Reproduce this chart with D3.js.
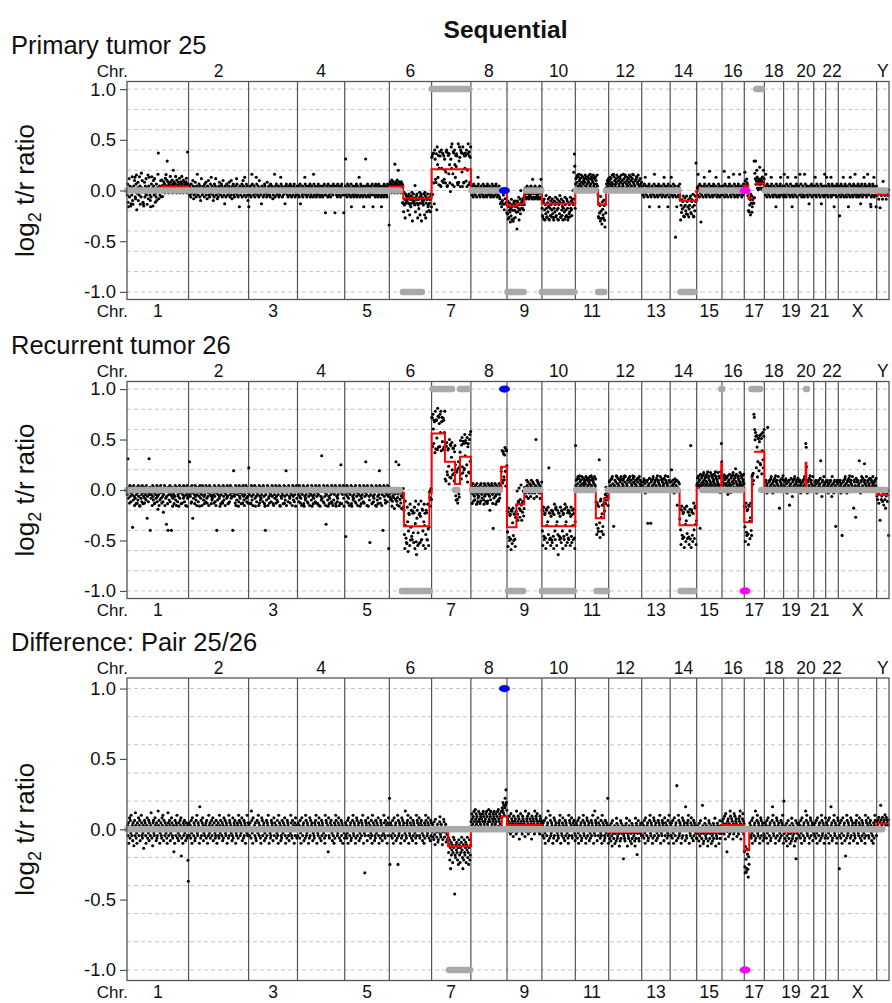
<!DOCTYPE html>
<html>
<head>
<meta charset="utf-8">
<title>Sequential</title>
<script src="https://cdn.jsdelivr.net/npm/d3@7"></script>
<style>
  body { margin: 0; background: #fff; }
  svg text { font-family: "Liberation Sans", Arial, Helvetica, sans-serif; fill: #111; }
</style>
</head>
<body>
<svg id="chart" width="892" height="1003"></svg>
<script>
// ---------- data ----------
const mainTitle = "Sequential";
const panelTitles = ["Primary tumor 25", "Recurrent tumor 26", "Difference: Pair 25/26"];

const chrNames = ["1","2","3","4","5","6","7","8","9","10","11","12","13","14","15","16","17","18","19","20","21","22","X","Y"];
// plotted chromosome lengths (Mb)
const chrLenMb = [249.3,243.2,198.0,191.2,180.9,171.1,159.1,146.4,141.2,135.5,135.0,133.9,115.2,107.3,102.5,90.4,81.2,78.1,59.1,63.0,48.1,51.3,155.3,50.0];

const yTickValues = [1.0, 0.5, 0.0, -0.5, -1.0];
const yGridValues = [1.0, 0.8, 0.6, 0.4, 0.2, 0.0, -0.2, -0.4, -0.6, -0.8, -1.0];

// segment means: [chr, startMb, endMb, log2 ratio]
const segs25 = [
  ["1",0,140,0],["1",140,249.3,0.04],["2",0,243.2,0],["3",0,198,0],["4",0,191.2,0],["5",0,180.9,0],
  ["6",0,56,0.04],["6",56,171.1,-0.08],["7",0,159.1,0.21],["8",0,146.4,0],
  ["9",0,38,-0.15],["9",38,70,-0.13],["9",70,141.2,-0.02],["10",0,135.5,-0.13],
  ["11",0,92,0],["11",92,124,-0.14],["11",124,135,0],["12",0,133.9,0],["13",0,115.2,0],
  ["14",0,40,0],["14",40,107.3,-0.1],["15",0,102.5,0],["16",0,90.4,0],
  ["17",0,16,0.05],["17",16,36,-0.08],["17",43,81.2,0.07],
  ["18",0,78.1,0],["19",0,59.1,0],["20",0,63,0],["21",0,48.1,0],["22",0,51.3,0],["X",0,155.3,0],["Y",0,50,-0.04]
];
const segs26 = [
  ["1",0,249.3,0],["2",0,243.2,0],["3",0,198,0],["4",0,191.2,0],["5",0,180.9,0],
  ["6",0,59,-0.03],["6",59,162,-0.36],["6",162,171.1,-0.03],
  ["7",0,54,0.56],["7",54,95,0.28],["7",95,115,0.06],["7",115,159.1,0.33],
  ["8",0,123,0.02],["8",123,146.4,0.23],
  ["9",0,38,-0.37],["9",38,70,-0.14],["9",70,141.2,-0.02],["10",0,135.5,-0.36],
  ["11",0,83,-0.02],["11",83,117,-0.28],["11",117,135,-0.09],["12",0,133.9,-0.02],["13",0,115.2,-0.02],
  ["14",0,38,-0.02],["14",38,107.3,-0.35],["15",0,99.5,0.02],["15",99.5,102.5,0.27],["16",0,90.4,0.02],
  ["17",0,31,-0.32],["17",31,33,0.12],["17",39,81.2,0.38],
  ["18",0,78.1,-0.02],["19",0,59.1,-0.02],["20",0,30,-0.02],["20",30,33,0.27],["20",33,63,-0.02],
  ["21",0,48.1,-0.02],["22",0,51.3,-0.02],["X",0,155.3,-0.02],["Y",0,50,-0.05]
];
const segsDiff = [
  ["1",0,249.3,0],["2",0,243.2,0],["3",0,198,0],["4",0,191.2,0],["5",0,180.9,0],["6",0,171.1,0],
  ["7",0,67,-0.01],["7",67,159.1,-0.12],["8",0,125,0.01],["8",125,146.4,0.09],["9",0,141.2,0.03],
  ["10",0,135.5,0],["11",0,135,0],["12",0,133.9,-0.02],["13",0,115.2,0],["14",0,107.3,0],
  ["15",0,102.5,-0.02],["16",0,90.4,0.03],["17",0,20,-0.15],["17",20,81.2,0],
  ["18",0,78.1,0],["19",0,59.1,-0.02],["20",0,63,0],["21",0,48.1,0],["22",0,51.3,0],["X",0,155.3,0],["Y",0,50,0.04]
];

// calls (loss -1 / normal 0 / gain 1): [fromChr, fromMb, toChr, toMb, level]
const calls25 = [
  ["1",1,"6",42,0],["6",55,"6",132,-1],["7",1,"7",152,1],["8",3,"8",125,0],
  ["9",2,"9",67,-1],["9",77,"9",139,0],["10",0,"10",131,-1],["11",2,"11",80,0],["11",92,"11",117,-1],
  ["11",124,"14",34,0],["14",42,"14",97,-1],["15",21,"17",12,0],["17",49,"17",71,1],["18",2,"Y",37,0]
];
const calls26 = [
  ["1",1,"6",42,0],["6",51,"6",164,-1],["7",4,"7",83,1],["7",95,"7",104,0],["7",115,"7",150,1],
  ["8",4,"8",118,0],["9",4,"9",65,-1],["9",77,"9",134,0],["10",0,"10",129,-1],
  ["11",3,"11",74,0],["11",86,"11",128,-1],["11",132,"14",30,0],["14",42,"14",97,-1],
  ["15",23,"16",80,0],["15",100,"16",1,1],["17",29,"17",64,1],["17",69,"Y",37,0],["20",32,"20",35,1]
];
const callsDiff = [
  ["1",1,"Y",22,0],["7",71,"7",156,-1]
];

// highlighted loci: [gene, chr, Mb, level]
const marks25 = [["MYC","8",136,0],["TP53","17",3,0]];
const marks26 = [["MYC","8",136,1],["TP53","17",3,-1]];
const marksDiff = [["MYC","8",136,1],["TP53","17",3,-1]];

// probe ratios per chromosome, one character per probe, as deviation from the segment mean:
// a..t = -0.171..+0.171 (steps of 0.018); A..Z = +0.13, +0.16, ...; 0..9 = -0.13, -0.16, ...; u..z = -0.43 .. -0.58
const dots25 = [
  "hnd1kqgmjb0lhrecjmkpAgfns2iloejhrmckgtlpjd0bkogmiqhlcjsfmAkhe1gnrjlbpmhqkdignelkB" + "IfkmhjpglnkeijmhlgokqjnEhmkgljipmhkjnglB" + "kmjhlpignkjmhklogjmhkpljgnmikhjlmogkHlk",
  "jkmhlgnikjpmfhlkoigmjBkhlnjgmekqjhlimkgnjlohkfmjplhgkniAjmlhekgnjmqhlkfjgimolkhjnmgkpjhl0mkgjnlhkimojglhpkfmjnhlgkjmiqnhkglj1mkhjlngkpmjhAlkgnjmhek",
  "1jlhmgkBnjkhmlgijAnkhmjgplkhi0mjkglhnmjkigohlkmjhgnlkmjfhlkBgmjnhklimgjhlAnkmgjhlki0mjnlhkgmjlhnkmgjlhkmnjglhikm",
  "jlhmgkn0jlkhmgiljkAnhmjglkhmkjlngihmkjlgBnhkmjlgihkmnjlhgkmjlhkgmjlnhk" + "3hkmjlgnkhjmlgikmjlhnkmj" + "3kjmhlgnkjmhlkgjmnl" + "hjk3kh",
  "kmGhljgnkimjhlkgn1jlhmkgiljmhknglmjhkAlgjnmhkljgm1" + "khljGmgkjnhlmkgjilmhknj1lhkmjgnlhkmjglnhkmjlg1hkmjlgnhkmjlhgknmjl7",
  "hkmjlgnikjmhlgDkjmhlngkBjmhlkgjmil" + "1kh0ngj2mhlikjdlhmk1gjflhn3jkmihgA0kjlmh2gjekn1hlm3jhkigmj1nl2hk0jmfgkdhj0mlf",
  "qA4sBc7Cpe0s9DmfrbktA1aCkdBs0AepjcitCa1Brhsmc3pDkEbhtBaCmfrlsAcbE0oDqaCtBiaDsc0AkBrdCajsEbtA0qD",
  "jlhmkgnijmhlkgjmAnlhkgjmilkhngjmlkhjgmnlhkjmigklhnjmgklhjmnigklhjm" + "gf0kd1je0hc2kf0jd3",
  "kfm0jdhlg1ienkcjhb0lm" + "hkdjmgi4lfkhn1jgmeAkh" + "jlhmkgnjilmhkgjnmlhkjgmilhnkjmgAlhkjmgnlhjkmiglhjkmnglhAjm",
  "hd0lkbmg1jeohc0kfmib1nhdlj0gmekc1hlfjn0dkgmbh1jleokc0mgdi1lhkfbnj0gdmlh1ckejf0nhlgdmkAjGmMIh",
  "nqkAosmrlBpnqkmsoAlrnpqkosmAqlnrpkosqmBnlrqpkosmnAqlrpnksm" + "hd0kfj1ogc2lhe0mjb3kf" + "lnkpmoq",
  "lpnAkqmosnlBrkpmnqoslkApnmrqokslpnmBqkosrlnpAmkqosnlrpmkqBosnlmpkqrAonslpmkqnlo",
  "jlhmkgniAjmhlkgjmn1lhkgjmilkhnBgjmlkhjgmn1lhkjmigklhnAjmgklhjm1nigkl",
  "kmAhljgnlkhmvjg1kjmhlgnk" + "2hdkfjmbg1lhe0mjcgk1fhlmd0jkgnb1hemjIk",
  "jlhBmkgnji6mhlkgjmAnlhkgjmilkhnCgjmlkhjgmnlhkjmAigklhnjmgklhjm",
  "jlhmkCgnijmhlkgjAmnlhkgjmilkBhngjmlkhjgmnlhBkjmigklhnjm",
  "kAmhjgnlk" + "ehd0kgj1mhlcf" + "jhk" + "hIkEmDjlAnhkgmjlBhkjmlgnhkAjm",
  "jlhBmkgnjimhlkgjmAnlhkgjmilkh1ngjmlkhjgmnAlhkjmig",
  "kBmhljgnkiAmjhlkgnjlh1mkgjilmhAknglmj",
  "jmlhBknigjlmhkgBjnlkhmjgli0mkhjlngkmjh",
  "kjmAlhgnkjmilhkgjn0mlhkjgmBlh",
  "jmAlhkgnjmlkhAgjnmlhk1jmlhkgnjml",
  "jlh4mkgnjimhlAkgjmnlhkgjmil1khngAjmlkhjgmnlhkBjmigklhnjmgklh0jmnigklhAjmnklhgjmBkilhnjmc1gklhnjmAgklhj1m",
  "jkmhl0kjmhAlkjmhlkjm"
];
const dots26 = [
  "hkGfjl0mgi" + "dklh8jemgb" + "kfjchl0iem" + "gjb1klfhdm" + "jcigl0fkhe" + "mj5gkdiGhl" + "9kfhjbmgel" + "ic0khfjmdg" + "2lhbkejmfi" + "0kgd3hjmbl" + "fk7gjc9lhe" + "kmdhj9gl1f" + "ihckgmejbl" + "kdhg1jmfik" + "cjl0hkfmgd" + "jlbhk1mfgi",
  "jkFhgl0dmi" + "5jfkhcmgel" + "bhkjdlg1mi" + "fkhbmjlegc" + "hkdmjf0lgi" + "bkmjhlcgef" + "kjh0mgdlbi" + "9kehjmfg1l" + "chkjd0mgel" + "ibkhjfmgcl" + "0kdhmjflgi" + "9jCkgh0mbl" + "ekhj1dmgfi" + "kcljh0mgeb" + "hjkmfdlg0i",
  "Dkhjc0mgel" + "bhkjmf1lgd" + "ikhjbm0gel" + "fhkjdmlgc1" + "9hkejmblfg" + "0ikhdjmglc" + "bkhfjm0gel" + "dhkjmb1lgf" + "ikhcjm0gel" + "Cbhkjdmlgf" + "0ikhjbmgel" + "dhk1jmfl",
  "jkhdmgl0fi" + "bkhjmc1lge" + "fhkldm0jgi" + "bkihem1lgc" + "fhjkdm0lgi" + "ckhbml1jge" + "Hfkjdm0lgi" + "b7hjme1lgc" + "fjkhdm0lbi" + "ekhjmc1lgd" + "fhkjbm0lEi" + "ckhjmf1l",
  "jkvhdmgl0f" + "ibkhjmc1lg" + "efhkldm0jg" + "ibkihem1lg" + "cfhjkdm0lg" + "iFkhbml1jg" + "exkhjmc0lg" + "dfhkjbm1le" + "gckhCmf0lj" + "bhk9jmgle0" + "ikhdmjgzl",
  "jkhmgl0fik" + "hlbjmgGkfd" + "hjmF0kglei" + "bkhjmc" + "Bf3Ekd1aCm4hAq2DcjBe0sAg1rC3lEb5oB2gDaqA1pEc0tBh2mD" + "kA3fBr0cDi2" + "jkh0lmg",
  "Bs0CmeAq2DbrAh1EtcBp0CkDaqBf1sAckD" + "aB2sCe0qAh3DbtB1mCf0rAd2pB" + "Cd1qAb2sDe0t" + "mBa3qCe1sA0dDkBr2fC4pAb1tDhE",
  "jlhbkmg0if" + "dklhj1mgce" + "kfjhbl0mig" + "ehkjd1mflg" + "ckhjb0mgil" + "f3kdhjmlgb" + "9kehjmf1lg" + "chkjd0mgel" + "ikhj" + "Bc1sAe0qCh2tBk",
  "Bh2sCe0qAd3tB1mCf0rAd2pBc" + "jAe1lkBh0mgCj1kflAdhm" + "kmjlhqnkpgmjlokhnqmjlpkogmjlnNkhqmplojkngmjlp",
  "Bh2sCe0qAd3tBk1mCfPr0Ad2pBc1sAe3qDh0tCk2mBf5rAe0pCd1sBh3qAe0tDk2mCf1rBd0sAh2pCe1qBk0tAd3m",
  "LnqkAosmrlBpnqkmsoAlrnpqkosmAqlnrpkosqmBnlrqpkosmnA" + "Bg1sAe0qPh2tCk0mAf1rBd" + "kmhqjnlpgo",
  "mpkqnlArsom7lnqkpBsmorlnkqpAsmloqnrkBpsmlonqkArpsmlqonkBrpsmolqnkAprmlsoqnkp",
  "lnkpmAqojlmpkq6nlormk6pqlnAsmokpqlnrmBkpqolnsmkAqplnormkBqplonsmkqpl",
  "mkpDlnqkojmAplnkq0mlpkon" + "Bh2sCe0qAd3tBk1mCf0rAd2pBcW3sAe1qDh0t" + "Ck2m",
  "lmpkqnlo9rkmpqlnAsmokpqlnrmBkpqolnsmkAqplnormkBqplonsmkqpl" + "hBqCk",
  "lnkpmAqojlmpkqgnlormkhpqlnAsmokpqCnrmlkpqolnsmkApqlnorm",
  "Bh2sCe0qAd3tBk1mCf0" + "kl" + "gmi" + "IHDqCs1Bm4eAr2pBd0tA3kCf1sD",
  "lmkpqnjoRlkmpqlnAsmokjpqlnrmBkpqolnsmk1qplnormkBq",
  "lnkpmAqojlmpkq0nlormkhpqlnAsmokpqlnr",
  "lmkpqnjolkmpqlnAsmoCsEkjpqlnrmBkpqolnsmk",
  "lnkpmqojlmpkqnlorGmkhpqlnsmokp",
  "lmkpqnjolkmpqlnhsmokjpqln7mkpqol",
  "lmkpqnjolukmpqlnAsmokjpqlnrmBkpqolnsmk1qpln4rmkpqlnoGmkjpqslnrmkpFqolnsmkpqlnormkAqplnsokmpqlnrm",
  "jhkfl4mhjgkelh0jkgm9"
];
const dotsDiff = [
  "jlhmekognipjhlfmkdjnhqlgiemkjohlnfjkpmhgilcjnkmhejlogkinfmjhlqkgjdmnihkoljfmghkAlnjeikmhgolpjfnkhmjilgekqmhjnlfikomhgjl1kenjhmlpgkifmjhnlo2gkjemhlnikfjmghl38",
  "kmhjlgnieokjhmlfgjnkpihmljeBkgnhjmolfikhjlmgnkejhplimgkjnhlofkmjighnlekjmhgplinkjhmflgokjnihmlejkgphnmjlikfhogjmlnkeihjmlgpknjhmilofkjgnhmlejkiphmj",
  "ljhmkgAnieojklhmgfjnkipmhljgekonhjlmfikgjnhmlpkejighnmlkfjohmkjlginhepkmjlfhgnkimjlohekjgnmlhfkjipmhgnjlkemhojlgk",
  "hmkjlgniekojhlmfjkgpnhimljekgohnjlmkfijhgmlnpkejihmolgkjfnhmlkijgephnmkjl1ohgkmjnlifkhjemglpnkjhimolgjkfnhmlejkig",
  "kjmhlgineokjhlmfgjknpihmljegkonhjlmfkigjnhmlpkeji6hnmlkfjohmkjlginhepkmjlfhgnkimjlohekjgnmlhfkjipmhgnjlkemhojl",
  "D4jmhlkgniekojhlmfjkgp4nhimljekgohnjlmkfiAjhgmlnpkejihmolgkjfnhmlkijgephnmkjlohgkmjnlifkhjemglpnkjhimolgjkfnhm",
  "kjmhlgnieokjhlmfgjknpihmljegkonhjlmfkigjn" + "hkmej1lgikdhnjm7gfkilhej0mkgdjhlnif1kemhgjldkinfh0jmegk",
  "mkpnlojqmkAnplomjkqnmploknjpmqolkmnpjqolkmAnpmoqjklnpmoqknlpmjoqkAnmplokqjnmplok" + "nAoCpm",
  "kmjlhnikgojmlhkfnjlimkgpjhlnkmeijolkhgnmjlkifpjhmlnkgoijmhlkenjimlkgphjnmlokjihlgnmkjl",
  "jlhmkgniekojhlmAfjkgpnhimljekgohnjlmkfijhgmlnpkejihmolgkjfnhmlkijgephnmkjlohgkmjnlif",
  "hkmjlgnieokjhlmfgjknpihmljegkonhjlmfkigjnhmlpkejiAhnmlkfjohmkjlginhepkmjlfhgnkimjlDhe",
  "ljhmkgnieokjhlmfjkgpnhimljekgohnjlmk2ijhgmlnpkejihmolgkjfnhmlkijgephnm1jlohgkmjnli",
  "kmhjlgnieokjhlmfgjknpihmljegkonhjlmfkigjnhmlpkejihnmlkfjohmkjlginhepkm",
  "jlhmkgniekojhlmfGjkgpnhimljekgohnjlmkfBjhgmlnpkejihmolgkjfnhmlkijg",
  "hkmjlgnieokjhlCmfgjknpihmljegkonhjlmfkigjnhmlpkejihnmlkfjohmkjl",
  "ljhmkgnieokj2hlmfjkgpnhimljekgohnjlmkfijhgmlnpkejihmolgk",
  "jd1lgb0kic2he" + "kmjlhgnieokjhlmfAgjknpihmljegkonhjlmfkig",
  "hkmjlgnieokjhlmfgjknBpihmljegkonhjlmfkigjnhmlpke",
  "Djlhmkgniekojhlmfjkgpnhimljekgo2hnjlm",
  "kmhjlgnieokjhlmfgjAknpihmljegkonhjlmfki",
  "ljhmkgnieokjhlmfjkgpnhimljekgo",
  "hkmjlgnieokjhBlmfgjknpihmljegkon",
  "jl5hmkgniekojhlmfj2kgpnhimljekgohnjlmkfijhgmlnpkejihmolgkjfnhmlkijgephnmkjlohgkmjnlifkhjemglpnkjh",
  "kjlmhkAljmhklnjmlkjl"
];

// ---------- layout ----------
const plotLeft = 127, plotRight = 889;
const panelBoxes = [[81.5, 299.5], [381.5, 598.5], [678, 980.5]];
const markerColor = { MYC: "#0000ff", TP53: "#ff00ff" };

const panels = [
  { title: panelTitles[0], segs: segs25, calls: calls25, marks: marks25, dots: dots25 },
  { title: panelTitles[1], segs: segs26, calls: calls26, marks: marks26, dots: dots26 },
  { title: panelTitles[2], segs: segsDiff, calls: callsDiff, marks: marksDiff, dots: dotsDiff }
];

const svg = d3.select("#chart");

// cumulative genome position of each chromosome
const chrOffset = {};
let acc = 0;
chrNames.forEach((c, i) => { chrOffset[c] = acc; acc += chrLenMb[i]; });
const totalMb = acc;

const x = d3.scaleLinear().domain([0, totalMb]).range([plotLeft, plotRight]);

function residual(ch) {
  const c = ch.charCodeAt(0);
  if (c >= 97 && c <= 116) return (c - 97 - 9.5) * 0.018;        // a..t
  if (c >= 65 && c <= 90) return 0.13 + (c - 65) * 0.03;         // A..Z
  if (c >= 48 && c <= 57) return -(0.13 + (c - 48) * 0.03);      // 0..9
  if (c >= 117 && c <= 122) return -(0.43 + (c - 117) * 0.03);   // u..z
  return 0;
}

function segValue(segs, chr, mb) {
  const own = segs.filter(s => s[0] === chr);
  let hit = own.find(s => mb >= s[1] && mb < s[2]);
  if (!hit) hit = own.filter(s => s[1] <= mb).pop() || own[0];
  return hit ? hit[3] : 0;
}

svg.append("text")
  .attr("x", 505.5).attr("y", 38)
  .attr("text-anchor", "middle")
  .style("font-size", "24.5px").style("font-weight", "bold")
  .text(mainTitle);

panels.forEach((p, i) => {
  const [top, bottom] = panelBoxes[i];
  const y = d3.scaleLinear().domain([-1.075, 1.075]).range([bottom, top]);
  const g = svg.append("g");

  g.append("text")
    .attr("x", 11).attr("y", top - 27.5)
    .style("font-size", "25.5px")
    .text(p.title);

  // dashed grid
  g.append("g").selectAll("line").data(yGridValues).join("line")
    .attr("x1", plotLeft).attr("x2", plotRight)
    .attr("y1", d => y(d)).attr("y2", d => y(d))
    .attr("stroke", "#c4c4c4").attr("stroke-dasharray", "4 3");

  // chromosome boundaries
  g.append("g").selectAll("line").data(chrNames.slice(1)).join("line")
    .attr("x1", c => x(chrOffset[c])).attr("x2", c => x(chrOffset[c]))
    .attr("y1", top).attr("y2", bottom)
    .attr("stroke", "#555").attr("stroke-width", 1.2);

  // probes
  const pts = [];
  p.dots.forEach((str, ci) => {
    const c = chrNames[ci], len = chrLenMb[ci];
    for (let k = 0; k < str.length; k++) {
      const mb = (k + 0.5) / str.length * len;
      pts.push([chrOffset[c] + mb, segValue(p.segs, c, mb) + residual(str[k])]);
    }
  });
  g.append("g").selectAll("circle").data(pts).join("circle")
    .attr("cx", d => x(d[0])).attr("cy", d => y(d[1]))
    .attr("r", 1.55).attr("fill", "#000");

  // segment line
  const path = d3.path();
  let prevEnd = null;
  p.segs.forEach(([c, s, e, v]) => {
    const g0 = chrOffset[c] + s, g1 = chrOffset[c] + e;
    if (prevEnd !== null && Math.abs(g0 - prevEnd) < 1) path.lineTo(x(g0), y(v));
    else path.moveTo(x(g0), y(v));
    path.lineTo(x(g1), y(v));
    prevEnd = g1;
  });
  g.append("path").attr("d", path.toString())
    .attr("fill", "none").attr("stroke", "#ff0000").attr("stroke-width", 2);

  // calls
  g.append("g").selectAll("line").data(p.calls).join("line")
    .attr("x1", d => x(chrOffset[d[0]] + d[1])).attr("x2", d => x(chrOffset[d[2]] + d[3]))
    .attr("y1", d => y(d[4])).attr("y2", d => y(d[4]))
    .attr("stroke", "#a9a9a9").attr("stroke-width", 6.5).attr("stroke-linecap", "round");

  g.append("g").selectAll("ellipse").data(p.marks).join("ellipse")
    .attr("cx", d => x(chrOffset[d[1]] + d[2])).attr("cy", d => y(d[3]))
    .attr("rx", 5.5).attr("ry", 3.6)
    .attr("fill", d => markerColor[d[0]]);

  // frame
  g.append("rect")
    .attr("x", plotLeft).attr("y", top)
    .attr("width", plotRight - plotLeft).attr("height", bottom - top)
    .attr("fill", "none").attr("stroke", "#555").attr("stroke-width", 1.3);

  // y axis
  const axis = d3.axisLeft(y).tickValues(yTickValues).tickSize(7).tickPadding(4)
    .tickFormat(d => d.toFixed(1));
  const ag = g.append("g").attr("transform", `translate(${plotLeft},0)`).call(axis);
  ag.select(".domain").remove();
  ag.selectAll(".tick line").attr("stroke", "#555").attr("stroke-width", 1.2);
  ag.selectAll(".tick text").style("font-size", "18.5px");

  // chromosome labels
  const mid = c => x(chrOffset[c] + chrLenMb[chrNames.indexOf(c)] / 2);
  g.append("g").selectAll("text").data(chrNames.filter((c, k) => k % 2 === 1)).join("text")
    .attr("x", mid).attr("y", top - 4.5).attr("text-anchor", "middle")
    .style("font-size", "17.5px").text(c => c);
  g.append("g").selectAll("text").data(chrNames.filter((c, k) => k % 2 === 0)).join("text")
    .attr("x", mid).attr("y", bottom + 17.5).attr("text-anchor", "middle")
    .style("font-size", "17.5px").text(c => c);
  [top - 4.5, bottom + 17.5].forEach(yy => {
    g.append("text").attr("x", 128).attr("y", yy).attr("text-anchor", "end")
      .style("font-size", "17px").text("Chr.");
  });

  // y label
  const yl = g.append("text")
    .attr("transform", `translate(34,${y(0)}) rotate(-90)`)
    .attr("text-anchor", "middle")
    .style("font-size", "26px");
  yl.append("tspan").text("log");
  yl.append("tspan").attr("dy", 7).style("font-size", "18px").text("2");
  yl.append("tspan").attr("dy", -7).text(" t/r ratio");
});
</script>
</body>
</html>
